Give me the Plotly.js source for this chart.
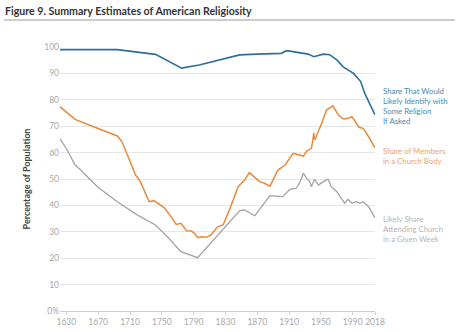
<!DOCTYPE html>
<html>
<head>
<meta charset="utf-8">
<script src="https://cdn.plot.ly/plotly-3.0.1.min.js"></script>
<style>
html,body{margin:0;padding:0;background:#fff;}
#chart{width:468px;height:332px;}
</style>
</head>
<body>
<div id="chart"></div>
<script>
// Share that would likely identify with some religion if asked
const identifyYears = [1622,1694,1742,1775,1797,1848,1869,1900,1907,1919,1934,1941,1953,1961,1970,1978,1991,2000,2005,2018];
const identifyValues = [99,99,97.2,92,93.2,97,97.3,97.6,98.6,98.1,97.3,96.3,97.3,97.1,95.1,92.5,90,86.9,82.5,74.3];

// Share of members in a church body
const membersYears = [1622,1641,1669,1694,1700,1709,1717,1723,1734,1740,1749,1753,1760,1768,1774,1781,1787,1791,1795,1799,1806,1812,1820,1827,1835,1846,1854,1860,1865,1873,1879,1886,1896,1905,1915,1921,1928,1932,1938,1940,1941,1942,1944,1951,1957,1965,1972,1978,1984,1989,1993,1998,2003,2010,2018];
const membersValues = [77.4,72.6,69.2,66.3,64.1,57.2,51.5,49,41.4,41.8,40.1,39.2,36.4,32.8,33.2,30.4,30.3,29.4,27.8,28.1,27.9,28.8,31.9,32.6,38.3,47.1,49.6,52.4,51.1,49,48.4,47.3,53.4,55.3,59.7,59.3,58.7,60.6,61.6,64.8,67.5,64.8,66,71.1,76.1,77.7,74.2,72.7,73,73.6,72,69.6,69.2,66,61.8];

// Likely share attending church in a given week
const attendYears = [1622,1631,1641,1648,1669,1694,1719,1742,1757,1774,1795,1848,1854,1867,1886,1894,1902,1911,1919,1923,1928,1932,1936,1938,1942,1947,1953,1959,1963,1970,1974,1980,1984,1989,1995,1999,2003,2010,2018];
const attendValues = [65.2,61,55.3,53.4,47.1,41.4,36.4,32.6,28.1,22.5,20.2,38,38.3,36.1,43.7,43.6,43.3,46.1,46.5,48.4,52.2,50.3,49,47.1,49.9,47.7,49,49.9,47.1,45.2,43.3,40.8,42.3,40.8,41.4,40.8,41.4,39.5,35.3];

const xTickVals = [1630,1670,1710,1750,1790,1830,1870,1910,1950,1990,2018];
const xTickText = ["1630","1670","1710","1750","1790","1830","1870","1910","1950","1990","2018"];
const yTickVals = [0,10,20,30,40,50,60,70,80,90,100];
const yTickText = ["0%","10","20","30","40","50","60","70","80","90","100"];

const blueLabel = ["Share That Would","Likely Identify with","Some Religion","If Asked"];
const orangeLabel = ["Share of Members","in a Church Body"];
const grayLabel = ["Likely Share","Attending Church","in a Given Week"];

const BLUE = "#2d6e9c", ORANGE = "#e8893c", GRAY = "#a3a3a3";
const FONT = "Lato, 'Open Sans', sans-serif";

const traces = [
  {x: attendYears, y: attendValues, type: "scatter", mode: "lines", line: {color: GRAY, width: 1.3}, hoverinfo: "skip"},
  {x: membersYears, y: membersValues, type: "scatter", mode: "lines", line: {color: ORANGE, width: 1.5}, hoverinfo: "skip"},
  {x: identifyYears, y: identifyValues, type: "scatter", mode: "lines", line: {color: BLUE, width: 1.6}, hoverinfo: "skip"}
];

// paper coords: plot area x 60..375, y 47..311 (px)
const px = x => (x - 60) / 315;
const py = y => (311 - y) / 264;

const annotations = [];
function addLabel(lines, color, topY) {
  lines.forEach((t, i) => {
    annotations.push({
      xref: "paper", yref: "paper", x: px(381), y: py(topY + i * 10),
      xanchor: "left", yanchor: "middle", showarrow: false, align: "left",
      text: t, font: {family: FONT, size: 7.8, color: color}
    });
  });
}
addLabel(blueLabel, "#4b87b3", 91);
addLabel(orangeLabel, "#eba468", 151);
addLabel(grayLabel, "#b5b5b5", 219);

annotations.push({
  xref: "paper", yref: "paper", x: px(3), y: py(10.5),
  xanchor: "left", yanchor: "middle", showarrow: false,
  text: "<b>Figure 9. Summary Estimates of American Religiosity</b>",
  font: {family: FONT, size: 10.6, color: "#333333"}
});

const layout = {
  width: 468, height: 332,
  margin: {l: 60, r: 93, t: 47, b: 21},
  paper_bgcolor: "#ffffff", plot_bgcolor: "#ffffff",
  showlegend: false,
  font: {family: FONT, color: "#aaaaaa", size: 8.5},
  xaxis: {
    range: [1622, 2018], tickmode: "array", tickvals: xTickVals, ticktext: xTickText,
    showgrid: false, zeroline: false, showline: true, linecolor: "#d0d0d0", linewidth: 1,
    ticks: "outside", ticklen: 3, tickcolor: "#d0d0d0",
    tickfont: {family: FONT, size: 8.5, color: "#a8a8a8"}
  },
  yaxis: {
    range: [0, 100], tickmode: "array", tickvals: yTickVals, ticktext: yTickText,
    showgrid: true, gridcolor: "#e6e6e6", gridwidth: 1, zeroline: false, showline: false,
    ticks: "", tickfont: {family: FONT, size: 8.5, color: "#a8a8a8"},
    title: {text: "<b>Percentage of Population</b>", font: {family: FONT, size: 9, color: "#444444"}, standoff: 12}
  },
  shapes: [{
    type: "line", xref: "paper", yref: "paper",
    x0: px(4), x1: px(455), y0: py(20), y1: py(20),
    line: {color: "#9a9a9a", width: 1}
  }],
  annotations: annotations
};

Plotly.newPlot("chart", traces, layout, {displayModeBar: false, staticPlot: true});
</script>
</body>
</html>
